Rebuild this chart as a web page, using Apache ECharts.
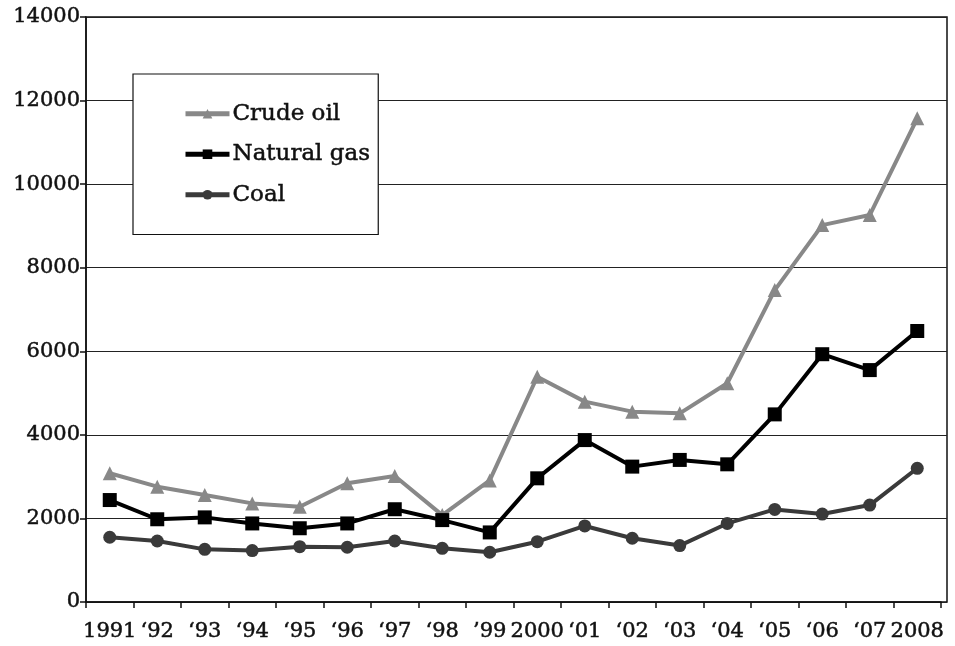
<!DOCTYPE html>
<html>
<head>
<meta charset="utf-8">
<script src="https://cdn.jsdelivr.net/npm/echarts@6/dist/echarts.min.js"></script>
<style>html,body{margin:0;padding:0;background:#fff}#c{width:955px;height:646px}</style>
</head>
<body>
<div id="c"></div>
<script>
var years = ['1991','\u201892','\u201893','\u201894','\u201895','\u201896','\u201897','\u201898','\u201999','2000','\u201801','\u201802','\u201803','\u201804','\u201805','\u201806','\u201807','2008'];
var crudeOil = [3080,2760,2560,2360,2280,2840,3015,2080,2910,5390,4795,4555,4515,5235,7465,9020,9260,11575];
var naturalGas = [2440,1980,2025,1880,1765,1880,2220,1960,1665,2960,3875,3240,3400,3295,4490,5930,5550,6485];
var coal = [1550,1460,1260,1230,1325,1310,1460,1285,1190,1443,1820,1525,1350,1880,2215,2105,2320,3200];
var yTicks = {min:0, max:14000, interval:2000};

var FONT = 'DejaVu Serif';
var TXT = {fontFamily:FONT, color:'#111', textBorderColor:'#111', textBorderWidth:0.5};
var chart = echarts.init(document.getElementById('c'));
chart.setOption({
  backgroundColor:'#fff',
  animation:false,
  textStyle:{fontFamily:FONT},
  grid:[
    {left:86, top:17, width:861, height:585, show:true, borderColor:'#111', borderWidth:1.5, backgroundColor:'transparent'},
    {left:86, top:17, width:855, height:585}
  ],
  xAxis:[
    {gridIndex:0, type:'value', min:0, max:1, show:false},
    {gridIndex:1, type:'category', data:years, boundaryGap:true,
     axisLine:{lineStyle:{color:'#111', width:1.5}},
     axisTick:{show:true, length:6, inside:false, lineStyle:{color:'#111', width:1.5}},
     axisLabel:Object.assign({interval:0, margin:19, fontSize:21, hideOverlap:false}, TXT)}
  ],
  yAxis:[
    {gridIndex:0, type:'value', min:yTicks.min, max:yTicks.max, interval:yTicks.interval,
     axisLine:{show:true, lineStyle:{color:'#111', width:1.5}},
     axisTick:{show:true, length:6, lineStyle:{color:'#111', width:1.5}},
     axisLabel:Object.assign({margin:6, fontSize:21, formatter:function(v){return String(v);}}, TXT),
     splitLine:{show:true, lineStyle:{color:'#222', width:1.2}}},
    {gridIndex:1, type:'value', min:yTicks.min, max:yTicks.max, interval:yTicks.interval, show:false, splitLine:{show:false}}
  ],
  legend:{
    orient:'vertical', left:133, top:74,
    padding:[28, 8, 28, 50], itemGap:17,
    itemWidth:44, itemHeight:12,
    borderColor:'#111', borderWidth:1.2, backgroundColor:'#fff',
    lineStyle:{width:5},
    textStyle:Object.assign({fontSize:23, padding:[0,0,0,-2]}, TXT),
    data:['Crude oil','Natural gas','Coal']
  },
  series:[
    {name:'Crude oil', type:'line', xAxisIndex:1, yAxisIndex:1, data:crudeOil,
     symbol:'triangle', symbolSize:14, lineStyle:{color:'#888', width:4}, itemStyle:{color:'#888'}},
    {name:'Natural gas', type:'line', xAxisIndex:1, yAxisIndex:1, data:naturalGas,
     symbol:'rect', symbolSize:14, lineStyle:{color:'#000', width:4}, itemStyle:{color:'#000'}},
    {name:'Coal', type:'line', xAxisIndex:1, yAxisIndex:1, data:coal,
     symbol:'circle', symbolSize:13, lineStyle:{color:'#3a3a3a', width:4}, itemStyle:{color:'#3a3a3a'}}
  ]
});
</script>
</body>
</html>
